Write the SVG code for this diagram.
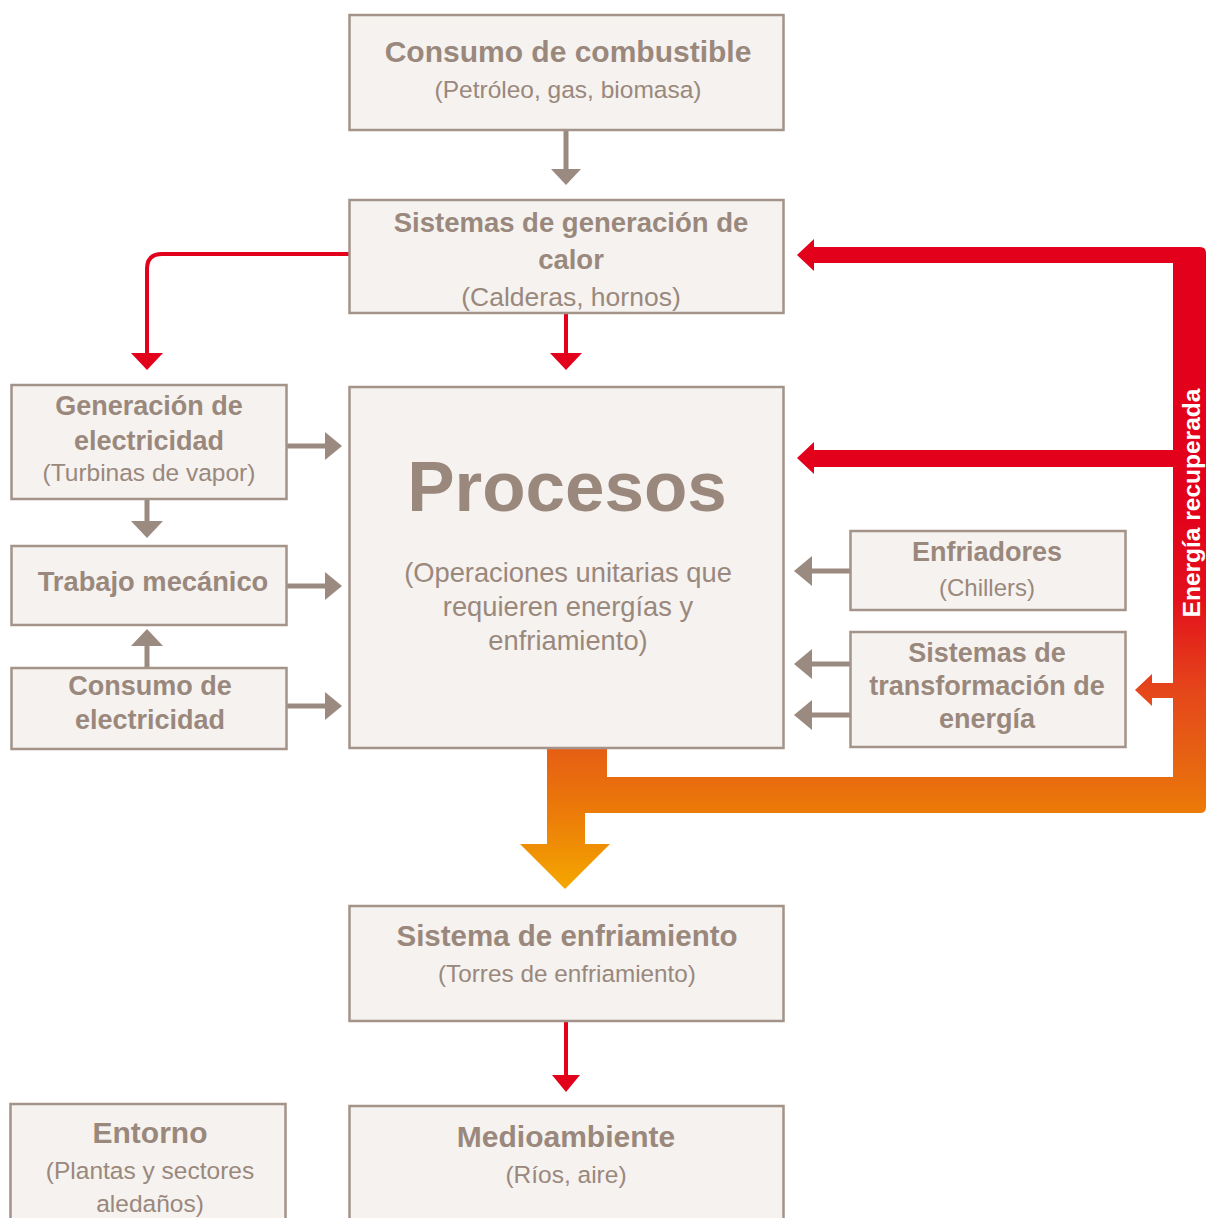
<svg xmlns="http://www.w3.org/2000/svg" width="1206" height="1218" viewBox="0 0 1206 1218">
<defs>
<linearGradient id="flow" gradientUnits="userSpaceOnUse" x1="0" y1="500" x2="0" y2="890">
<stop offset="0" stop-color="#e2001a"/>
<stop offset="0.256" stop-color="#e3101c"/>
<stop offset="0.487" stop-color="#e5461a"/>
<stop offset="0.641" stop-color="#e65f14"/>
<stop offset="0.756" stop-color="#ea720b"/>
<stop offset="0.885" stop-color="#ef8d05"/>
<stop offset="1" stop-color="#f5a800"/>
</linearGradient>
<style>
.box{fill:#f5f2ef;stroke:#a39389;stroke-width:2.5}
.t{font-family:"Liberation Sans",Arial,sans-serif;font-weight:bold;fill:#9a887d;text-anchor:middle}
.s{font-family:"Liberation Sans",Arial,sans-serif;fill:#9a887d;text-anchor:middle}
.g{stroke:#9b8a80;stroke-width:5;fill:none}
.gh{fill:#9b8a80}
.r{stroke:#e2001a;stroke-width:4;fill:none}
.rh{fill:#e2001a}
.f{fill:url(#flow)}
</style>
</defs>

<g id="connectors">
<line class="g" x1="566" y1="130" x2="566" y2="170"/>
<polygon class="gh" points="551,169 581,169 566,185"/>
<line class="g" x1="286" y1="446" x2="326" y2="446"/>
<polygon class="gh" points="325,432 325,460 342,446"/>
<line class="g" x1="286" y1="586" x2="326" y2="586"/>
<polygon class="gh" points="325,572 325,600 342,586"/>
<line class="g" x1="286" y1="706" x2="326" y2="706"/>
<polygon class="gh" points="325,692 325,720 342,706"/>
<line class="g" x1="147" y1="499" x2="147" y2="522"/>
<polygon class="gh" points="131,521 163,521 147,538"/>
<line class="g" x1="147" y1="668" x2="147" y2="645"/>
<polygon class="gh" points="131,646 163,646 147,629"/>
<line class="g" x1="850" y1="571" x2="810" y2="571"/>
<polygon class="gh" points="812,556 812,586 794,571"/>
<line class="g" x1="850" y1="664" x2="810" y2="664"/>
<polygon class="gh" points="812,649 812,679 794,664"/>
<line class="g" x1="850" y1="715" x2="810" y2="715"/>
<polygon class="gh" points="812,700 812,730 794,715"/>
<path class="r" d="M349,254 H162 Q147,254 147,269 V354"/>
<polygon class="rh" points="131,353 163,353 147,370"/>
<line class="r" x1="566" y1="313" x2="566" y2="354"/>
<polygon class="rh" points="550,353 582,353 566,370"/>
<line class="r" x1="566" y1="1021" x2="566" y2="1076"/>
<polygon class="rh" points="552,1075 580,1075 566,1092"/>
<path class="f" d="M1173,247 H1200 Q1206,247 1206,253 V807 Q1206,813 1200,813 H1173 Z"/>
<rect class="f" x="812" y="247" width="363" height="16"/>
<polygon class="f" points="797,255 814,239 814,271"/>
<rect class="f" x="812" y="450" width="363" height="17"/>
<polygon class="f" points="797,458 814,442 814,474"/>
<rect class="f" x="1150" y="683" width="25" height="15"/>
<polygon class="f" points="1135,690 1152,674 1152,706"/>
<rect class="f" x="585" y="777" width="600" height="36"/>
<rect class="f" x="547" y="748" width="60" height="31"/>
<rect class="f" x="547" y="777" width="38" height="68"/>
<polygon class="f" points="520,844 610,844 565,889"/>
<text x="1200" y="503" transform="rotate(-90 1200 503)" font-family="Liberation Sans, Arial, sans-serif" font-weight="bold" font-size="24.5" fill="#ffffff" text-anchor="middle">Energía recuperada</text>
</g>

<g id="n-combustible">
<rect class="box" x="349.5" y="15" width="434" height="115"/>
<text class="t" x="568" y="62" font-size="30">Consumo de combustible</text>
<text class="s" x="568" y="98" font-size="24.5">(Petróleo, gas, biomasa)</text>
</g>

<g id="n-calor">
<rect class="box" x="349.5" y="200" width="434" height="113"/>
<text class="t" x="571" y="232" font-size="27.5">Sistemas de generación de</text>
<text class="t" x="571" y="269" font-size="27.5">calor</text>
<text class="s" x="571" y="306" font-size="26.5">(Calderas, hornos)</text>
</g>

<g id="n-procesos">
<rect class="box" x="349.5" y="387" width="434" height="361"/>
<text class="t" x="567" y="511" font-size="71">Procesos</text>
<text class="s" x="568" y="582" font-size="27.3">(Operaciones unitarias que</text>
<text class="s" x="568" y="616" font-size="27.3">requieren energías y</text>
<text class="s" x="568" y="650" font-size="27.3">enfriamiento)</text>
</g>

<g id="n-generacion">
<rect class="box" x="11.5" y="385" width="275" height="114"/>
<text class="t" x="149" y="415" font-size="27">Generación de</text>
<text class="t" x="149" y="450" font-size="27">electricidad</text>
<text class="s" x="149" y="481" font-size="24.5">(Turbinas de vapor)</text>
</g>

<g id="n-trabajo">
<rect class="box" x="11.5" y="546" width="275" height="79"/>
<text class="t" x="153" y="591" font-size="27.3">Trabajo mecánico</text>
</g>

<g id="n-consumo-elec">
<rect class="box" x="11.5" y="668" width="275" height="81"/>
<text class="t" x="150" y="695" font-size="27">Consumo de</text>
<text class="t" x="150" y="729" font-size="27">electricidad</text>
</g>

<g id="n-enfriadores">
<rect class="box" x="850.5" y="531" width="275" height="79"/>
<text class="t" x="987" y="561" font-size="27">Enfriadores</text>
<text class="s" x="987" y="596" font-size="24">(Chillers)</text>
</g>

<g id="n-transformacion">
<rect class="box" x="850.5" y="632" width="275" height="115"/>
<text class="t" x="987" y="662" font-size="27">Sistemas de</text>
<text class="t" x="987" y="695" font-size="27">transformación de</text>
<text class="t" x="987" y="728" font-size="27">energía</text>
</g>

<g id="n-sist-enfriamiento">
<rect class="box" x="349.5" y="906" width="434" height="115"/>
<text class="t" x="567" y="946" font-size="29.5">Sistema de enfriamiento</text>
<text class="s" x="567" y="982" font-size="24.3">(Torres de enfriamiento)</text>
</g>

<g id="n-entorno">
<rect class="box" x="10.5" y="1104" width="275" height="130"/>
<text class="t" x="150" y="1143" font-size="30">Entorno</text>
<text class="s" x="150" y="1179" font-size="24.5">(Plantas y sectores</text>
<text class="s" x="150" y="1212" font-size="24.5">aledaños)</text>
</g>

<g id="n-medioambiente">
<rect class="box" x="349.5" y="1106" width="434" height="130"/>
<text class="t" x="566" y="1147" font-size="30">Medioambiente</text>
<text class="s" x="566" y="1183" font-size="24.5">(Ríos, aire)</text>
</g>
</svg>
